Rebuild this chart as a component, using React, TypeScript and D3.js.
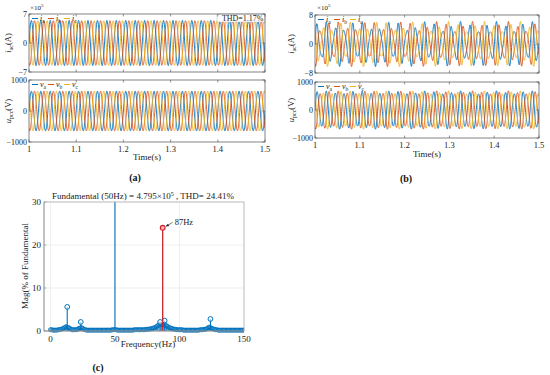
import React from 'react';
import * as d3 from 'd3';

const FONT = "'Liberation Serif', 'Times New Roman', serif";
const PHASE_COLORS = ['#0072BD', '#D95319', '#EDB120'];
const BOX = '#4d4d4d';

// ---------- data ----------
const timeRange = [1, 1.5];
const timeTicks = [1, 1.1, 1.2, 1.3, 1.4, 1.5];
const phaseLabels = ['a', 'b', 'c'];
const phaseShiftsDeg = [0, -120, 120];
const currentTicksA = [-7, 0, 7];
const currentTicksB = [-8, 0, 8];
const voltageTicks = [-1000, 0, 1000];

// harmonic content of the waveforms (frequency Hz, peak amplitude)
const aCurrentFreqs = [50, 250];
const aCurrentAmps = [5.4, 0.06]; // x10^5 A
const aVoltageFreqs = [50];
const aVoltageAmps = [640]; // V
const bCurrentFreqs = [13, 50, 87];
const bCurrentAmps = [0.27, 4.795, 1.17]; // x10^5 A
const bVoltageFreqs = [13, 50, 87];
const bVoltageAmps = [10, 630, 45]; // V
const sampleStep = 0.0004;

// spectrum (c)
const fftTicksX = [0, 50, 100, 150];
const fftTicksY = [0, 10, 20, 30];
const fftNoise = [
  0.3, 0.3, 0.2, 0.2, 0.2, 0.2, 0.3, 0.3, 0.4, 0.5,
  0.6, 0.8, 1.0, 0.9, 0.8, 0.6, 0.4, 0.3, 0.3, 0.3,
  0.3, 0.4, 0.6, 0.7, 0.8, 0.6, 0.4, 0.3, 0.2, 0.2,
  0.2, 0.2, 0.2, 0.2, 0.2, 0.2, 0.2, 0.2, 0.2, 0.2,
  0.2, 0.2, 0.2, 0.2, 0.2, 0.2, 0.2, 0.2, 0.3, 0.3,
  0.3, 0.3, 0.2, 0.2, 0.2, 0.2, 0.2, 0.2, 0.2, 0.2,
  0.2, 0.2, 0.2, 0.2, 0.2, 0.3, 0.3, 0.3, 0.3, 0.3,
  0.3, 0.3, 0.3, 0.3, 0.4, 0.4, 0.4, 0.5, 0.5, 0.6,
  0.7, 0.8, 1.0, 1.2, 1.4, 1.6, 1.5, 1.4, 1.6, 1.4,
  1.2, 1.0, 0.8, 0.7, 0.6, 0.5, 0.4, 0.4, 0.3, 0.3,
  0.3, 0.3, 0.3, 0.2, 0.2, 0.2, 0.2, 0.2, 0.2, 0.2,
  0.2, 0.2, 0.2, 0.2, 0.2, 0.2, 0.3, 0.3, 0.3, 0.4,
  0.4, 0.5, 0.7, 0.9, 0.8, 0.6, 0.5, 0.4, 0.3, 0.3,
  0.2, 0.2, 0.2, 0.2, 0.2, 0.2, 0.2, 0.2, 0.2, 0.2,
  0.2, 0.2, 0.2, 0.2, 0.2, 0.2, 0.2, 0.2, 0.2, 0.2, 0.2,
];
const fftPeakFreqs = [13, 23.5, 50, 85, 88.5, 124];
const fftPeakMags = [5.6, 2.1, 100, 2.1, 2.4, 2.8];
const fftMarkedFreq = 87;
const fftMarkedMag = 24.0;

const fmtNum = (v: number) => (v < 0 ? '\u2212' + Math.abs(v) : String(v));

type WaveProps = {
  id: string;
  x0: number; x1: number; y0: number; y1: number;
  yMax: number; yTicks: number[];
  freqs: number[]; amps: number[];
  sym: string;
  showX: boolean;
  thd?: string;
};

function WavePlot({ id, x0, x1, y0, y1, yMax, yTicks, freqs, amps, sym, showX, thd }: WaveProps) {
  const x = d3.scaleLinear().domain(timeRange).range([x0, x1]);
  const y = d3.scaleLinear().domain([-yMax, yMax]).range([y1, y0]);
  const ts = d3.range(timeRange[0], timeRange[1] + sampleStep / 2, sampleStep);
  const paths = phaseShiftsDeg.map((sh) => {
    const gen = d3
      .line<number>()
      .x((t) => x(t))
      .y((t) =>
        y(d3.sum(freqs, (f, k) => amps[k] * Math.sin(2 * Math.PI * f * t + (sh * Math.PI) / 180)))
      );
    return gen(ts) as string;
  });
  const tl = 2.5;
  return (
    <g>
      <defs>
        <clipPath id={id}>
          <rect x={x0} y={y0} width={x1 - x0} height={y1 - y0} />
        </clipPath>
      </defs>
      <rect x={x0} y={y0} width={x1 - x0} height={y1 - y0} fill="#fff" />
      <g clipPath={`url(#${id})`}>
        {paths.map((p, i) => (
          <path key={i} d={p} fill="none" stroke={PHASE_COLORS[i]} strokeWidth={0.9} />
        ))}
      </g>
      {/* legend */}
      <g>
        {phaseLabels.map((lab, i) => {
          const lx = x0 + 3 + i * 16;
          const ly = y0 + 4.5;
          return (
            <g key={lab}>
              <line x1={lx} x2={lx + 6} y1={ly} y2={ly} stroke={PHASE_COLORS[i]} strokeWidth={1} />
              <text x={lx + 8} y={ly + 2.5} fontSize={8} fill="#222">
                <tspan fontStyle="italic">{sym}</tspan>
                <tspan fontSize={5.5} dy={1.5}>{lab}</tspan>
              </text>
            </g>
          );
        })}
      </g>
      {thd && (
        <g>
          <rect x={x1 - 48} y={y0} width={48} height={8} fill="#fff" stroke="#bbb" strokeWidth={0.5} />
          <text x={x1 - 1.5} y={y0 + 7} fontSize={8} textAnchor="end" fill="#222">
            {thd}
          </text>
        </g>
      )}
      {/* box */}
      <rect x={x0} y={y0} width={x1 - x0} height={y1 - y0} fill="none" stroke={BOX} strokeWidth={0.7} />
      {timeTicks.map((t) => (
        <g key={t}>
          <line x1={x(t)} x2={x(t)} y1={y1} y2={y1 - tl} stroke={BOX} strokeWidth={0.6} />
          <line x1={x(t)} x2={x(t)} y1={y0} y2={y0 + tl} stroke={BOX} strokeWidth={0.6} />
        </g>
      ))}
      {yTicks.map((v) => (
        <g key={v}>
          <line x1={x0} x2={x0 + tl} y1={y(v)} y2={y(v)} stroke={BOX} strokeWidth={0.6} />
          <line x1={x1} x2={x1 - tl} y1={y(v)} y2={y(v)} stroke={BOX} strokeWidth={0.6} />
          <text x={x0 - 2} y={y(v) + 2.8} fontSize={8} textAnchor="end" fill="#222">
            {fmtNum(v)}
          </text>
        </g>
      ))}
      {showX &&
        timeTicks.map((t) => (
          <text key={t} x={x(t)} y={y1 + 10} fontSize={8.5} textAnchor="middle" fill="#222">
            {String(t)}
          </text>
        ))}
    </g>
  );
}

function YLabel({ x, y, base, sub, unit }: { x: number; y: number; base: string; sub: string; unit: string }) {
  return (
    <text transform={`translate(${x},${y}) rotate(-90)`} fontSize={8.5} textAnchor="middle" fill="#222">
      <tspan fontStyle="italic">{base}</tspan>
      <tspan fontSize={6} dy={2}>{sub}</tspan>
      <tspan dy={-2}>{unit}</tspan>
    </text>
  );
}

function Scale10({ x, y }: { x: number; y: number }) {
  return (
    <text x={x} y={y} fontSize={7} fill="#222">
      ×10<tspan fontSize={5} dy={-3}>5</tspan>
    </text>
  );
}

function Spectrum() {
  const x0 = 44, x1 = 244, y0 = 202, y1 = 331;
  const x = d3.scaleLinear().domain([-5, 150]).range([x0, x1]);
  const y = d3.scaleLinear().domain([0, 30]).range([y1, y0]);
  const blue = '#0072BD';
  const red = '#D0202A';
  const grid = '#e4e4e4';
  const tl = 2.5;
  const noiseIdx = d3.range(fftNoise.length);
  return (
    <g>
      <defs>
        <clipPath id="clipC">
          <rect x={x0} y={y0} width={x1 - x0} height={y1 - y0 + 6} />
        </clipPath>
      </defs>
      {fftTicksX.map((v) => (
        <line key={'gx' + v} x1={x(v)} x2={x(v)} y1={y0} y2={y1} stroke={grid} strokeWidth={0.6} />
      ))}
      {fftTicksY.map((v) => (
        <line key={'gy' + v} x1={x0} x2={x1} y1={y(v)} y2={y(v)} stroke={grid} strokeWidth={0.6} />
      ))}
      <g clipPath="url(#clipC)">
        {noiseIdx.map((f) => (
          <line key={'ns' + f} x1={x(f)} x2={x(f)} y1={y(0)} y2={y(fftNoise[f])} stroke={blue} strokeWidth={0.8} />
        ))}
        {noiseIdx.map((f) => (
          <circle key={'nc' + f} cx={x(f)} cy={y(fftNoise[f])} r={2} fill="none" stroke={blue} strokeWidth={0.9} />
        ))}
        {fftPeakFreqs.map((f, i) => (
          <line key={'ps' + f} x1={x(f)} x2={x(f)} y1={y(0)} y2={y(fftPeakMags[i])} stroke={blue} strokeWidth={1.1} />
        ))}
        {fftPeakFreqs.map((f, i) => (
          <circle key={'pc' + f} cx={x(f)} cy={y(fftPeakMags[i])} r={2.4} fill="#fff" fillOpacity={0.6} stroke={blue} strokeWidth={1} />
        ))}
        <line x1={x(fftMarkedFreq)} x2={x(fftMarkedFreq)} y1={y(0)} y2={y(fftMarkedMag)} stroke={red} strokeWidth={1.3} />
        <circle cx={x(fftMarkedFreq)} cy={y(fftMarkedMag)} r={2.4} fill="#f3b0b0" stroke={red} strokeWidth={1.1} />
      </g>
      {/* annotation */}
      <line x1={x(fftMarkedFreq) + 10} y1={y(fftMarkedMag) - 5.5} x2={x(fftMarkedFreq) + 3.5} y2={y(fftMarkedMag) - 1.5} stroke="#222" strokeWidth={0.6} />
      <path
        d={`M${x(fftMarkedFreq) + 3} ${y(fftMarkedMag) - 1.2} l3.6 -0.6 l-1.5 -2.3 z`}
        fill="#222"
      />
      <text x={x(fftMarkedFreq) + 12} y={y(fftMarkedMag) - 3} fontSize={8.5} fill="#222">
        {fftMarkedFreq}Hz
      </text>
      {/* box */}
      <rect x={x0} y={y0} width={x1 - x0} height={y1 - y0} fill="none" stroke="#a8a8a8" strokeWidth={0.7} />
      <line x1={x0} x2={x0} y1={y0} y2={y1} stroke="#888" strokeWidth={0.7} />
      <line x1={x0} x2={x1} y1={y1} y2={y1} stroke="#888" strokeWidth={0.7} />
      {fftTicksX.map((v) => (
        <g key={'tx' + v}>
          <line x1={x(v)} x2={x(v)} y1={y1} y2={y1 - tl} stroke="#888" strokeWidth={0.6} />
          <text x={x(v)} y={y1 + 11} fontSize={9} textAnchor="middle" fill="#222">
            {v}
          </text>
        </g>
      ))}
      {fftTicksY.map((v) => (
        <g key={'ty' + v}>
          <line x1={x0} x2={x0 + tl} y1={y(v)} y2={y(v)} stroke="#888" strokeWidth={0.6} />
          <text x={x0 - 3} y={y(v) + 3} fontSize={9} textAnchor="end" fill="#222">
            {v}
          </text>
        </g>
      ))}
      <text x={148} y={347} fontSize={9} textAnchor="middle" fill="#222">
        Frequency(Hz)
      </text>
      <text transform="translate(28,266) rotate(-90)" fontSize={9} textAnchor="middle" fill="#222">
        Mag(% of Fundamental
      </text>
      <text x={143} y={199} fontSize={9} textAnchor="middle" fill="#222">
        Fundamental (50Hz) = 4.795×10<tspan fontSize={6} dy={-3}>5</tspan>
        <tspan dy={3}> , THD= 24.41%</tspan>
      </text>
    </g>
  );
}

export default function App() {
  return (
    <svg
      width={550}
      height={375}
      viewBox="0 0 550 375"
      style={{ position: 'absolute', left: 0, top: 0, background: '#fff' }}
      fontFamily={FONT}
    >
      <rect x={0} y={0} width={550} height={375} fill="#fff" />
      {/* panel (a) */}
      <Scale10 x={30} y={10} />
      <WavePlot id="a1" x0={29} x1={265} y0={14} y1={72} yMax={7} yTicks={currentTicksA}
        freqs={aCurrentFreqs} amps={aCurrentAmps} sym="i" showX={false} thd="THD=1.17%" />
      <WavePlot id="a2" x0={29} x1={265} y0={80} y1={142} yMax={1000} yTicks={voltageTicks}
        freqs={aVoltageFreqs} amps={aVoltageAmps} sym="v" showX={true} />
      <YLabel x={11} y={43} base="i" sub="ac" unit="(A)" />
      <YLabel x={11} y={111} base="u" sub="pcc" unit="(V)" />
      <text x={147} y={160} fontSize={9} textAnchor="middle" fill="#222">Time(s)</text>
      <text x={135} y={181} fontSize={10} fontWeight="bold" textAnchor="middle" fill="#111">(a)</text>

      {/* panel (b) */}
      <Scale10 x={317} y={10} />
      <WavePlot id="b1" x0={315} x1={539} y0={15} y1={73} yMax={8} yTicks={currentTicksB}
        freqs={bCurrentFreqs} amps={bCurrentAmps} sym="i" showX={false} />
      <WavePlot id="b2" x0={315} x1={539} y0={82} y1={138} yMax={1000} yTicks={voltageTicks}
        freqs={bVoltageFreqs} amps={bVoltageAmps} sym="v" showX={true} />
      <YLabel x={294} y={44} base="i" sub="ac" unit="(A)" />
      <YLabel x={294} y={110} base="u" sub="pcc" unit="(V)" />
      <text x={427} y={157} fontSize={9} textAnchor="middle" fill="#222">Time(s)</text>
      <text x={406} y={182} fontSize={10} fontWeight="bold" textAnchor="middle" fill="#111">(b)</text>

      {/* panel (c) */}
      <Spectrum />
      <text x={98} y={371} fontSize={10} fontWeight="bold" textAnchor="middle" fill="#111">(c)</text>
    </svg>
  );
}
